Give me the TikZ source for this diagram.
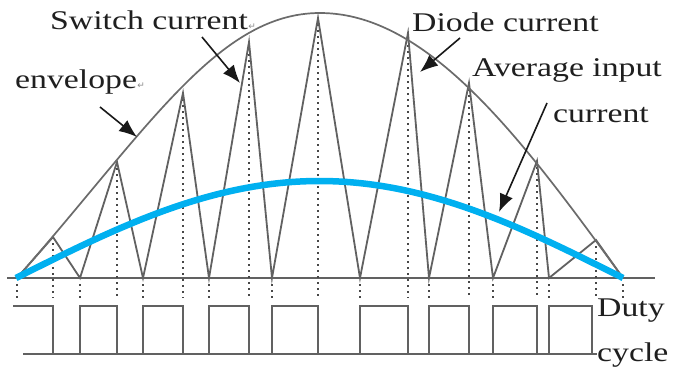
\documentclass[tikz,border=0pt]{standalone}
\usepackage{fontspec}
\setmainfont{Liberation Serif}
\newfontfamily\symfont{DejaVu Sans}
\usetikzlibrary{arrows.meta}
\definecolor{avgblue}{RGB}{0,176,240}
\begin{document}
\begin{tikzpicture}[x=1pt,y=-1pt,
  wave/.style={draw=black!62, line width=1.8pt, line join=miter},
  env/.style={draw=black!58, line width=1.7pt},
  dotline/.style={draw=black!72, line width=2.2pt, dash pattern=on 2pt off 4pt},
  lbl/.style={anchor=base west, inner sep=0pt, font=\fontsize{27}{30}\selectfont, text=black!88},
  retmark/.style={anchor=base west, inner sep=0pt, font=\symfont\fontsize{9}{9}\selectfont, text=black!45},
  pointer/.style={draw=black!90, line width=1.6pt, -{Latex[length=18pt,width=14pt]}},
  avg/.style={draw=avgblue, line width=6.5pt}
]
\useasboundingbox[fill=white] (0,0) rectangle (674,369);

% baseline
\draw[wave] (7,278) -- (655,278);

% dotted verticals
\foreach \x/\y in {53/237,117/162,183/93,249/42,318/18,408/33,469/83,537/161,596/240}
  \draw[dotline] (\x,\y) -- (\x,298);
\foreach \x in {17,80,143,209,272,360,429,493,549,623}
  \draw[dotline] (\x,284) -- (\x,298);

% triangular current
\draw[wave] (17,278) -- (53,237) -- (80,278) -- (117,162) -- (143,278) -- (183,93)
  -- (209,278) -- (249,42) -- (272,278) -- (318,18) -- (360,278) -- (408,33)
  -- (429,278) -- (469,83) -- (493,278) -- (537,161) -- (549,278) -- (596,240) -- (623,278);

% envelope
\draw[env] (17,278) .. controls (148,129) and (218,13) .. (320,13);
\draw[env] plot[domain=320:623, samples=80, smooth] (\x, {278-265*sin((\x-17)/606*180)});

% duty cycle square wave
\draw[wave] (23,354) -- (597,354);
\draw[wave] (13,306) -- (53,306) -- (53,354) -- (80,354) -- (80,306) -- (117,306) -- (117,354)
  -- (143,354) -- (143,306) -- (183,306) -- (183,354) -- (209,354) -- (209,306) -- (249,306)
  -- (249,354) -- (272,354) -- (272,306) -- (318,306) -- (318,354) -- (360,354) -- (360,306)
  -- (408,306) -- (408,354) -- (429,354) -- (429,306) -- (469,306) -- (469,354) -- (493,354)
  -- (493,306) -- (537,306) -- (537,354) -- (549,354) -- (549,306) -- (592,306) -- (592,354);

% average input current
\draw[avg] plot[domain=16:623, samples=100, smooth] (\x, {278-97*sin((\x-16)/607*180)});

% labels
\node[lbl] (sw) at (50,30) {\scalebox{1.25}[1]{Switch current}};
\node[retmark] (swr) at (sw.base east) {↵};
\node[lbl] (en) at (15,88) {\scalebox{1.25}[1]{envelope}};
\node[retmark] (enr) at (en.base east) {↵};
\node[lbl] (di) at (412,32) {\scalebox{1.25}[1]{Diode current}};
\node[lbl] (av) at (472,77) {\scalebox{1.25}[1]{Average input}};
\node[lbl] (av2) at (553,122) {\scalebox{1.25}[1]{current}};
\node[lbl] (du) at (597,316) {\scalebox{1.25}[1]{Duty}};
\node[lbl] (cy) at (597,361) {\scalebox{1.25}[1]{cycle}};

% pointers
\coordinate (envtail) at (100,107);
\coordinate (envtip) at (137,137);
\coordinate (swtail) at (202,37);
\coordinate (swtip) at (240,83);
\coordinate (ditail) at (460,38);
\coordinate (ditip) at (420,72);
\coordinate (avtail) at (547,103);
\coordinate (avtip) at (499,212);
\draw[pointer] (envtail) -- (envtip);
\draw[pointer] (swtail) -- (swtip);
\draw[pointer] (ditail) -- (ditip);
\draw[pointer] (avtail) -- (avtip);
\end{tikzpicture}
\end{document}
